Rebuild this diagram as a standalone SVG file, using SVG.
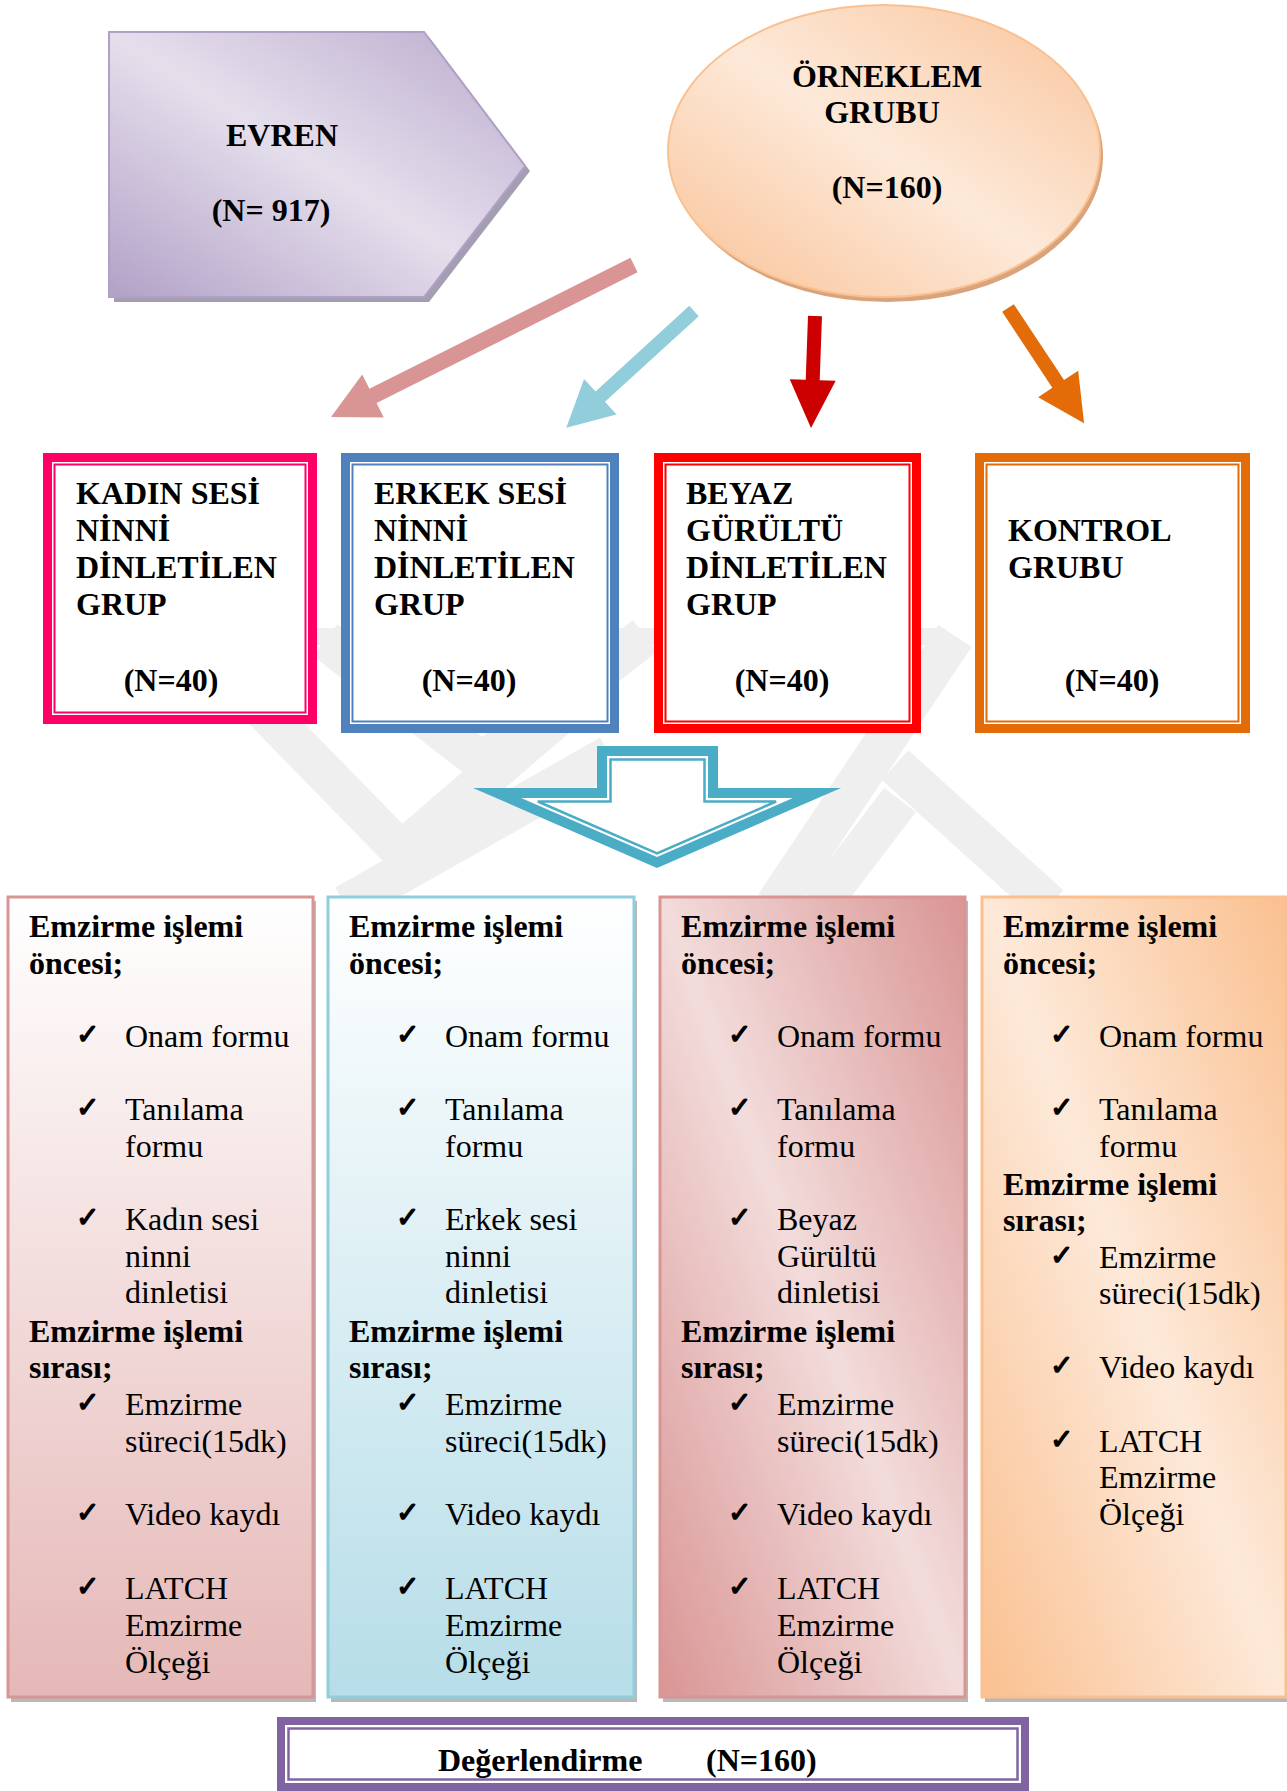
<svg xmlns="http://www.w3.org/2000/svg" width="1287" height="1791" viewBox="0 0 1287 1791">
<defs>
<linearGradient id="gEvren" x1="1" y1="0" x2="0" y2="1">
<stop offset="0" stop-color="#B9AACD"/><stop offset="0.5" stop-color="#E5DFEC"/><stop offset="1" stop-color="#B2A1C7"/>
</linearGradient>
<linearGradient id="gOrn" x1="1" y1="0" x2="0" y2="1">
<stop offset="0" stop-color="#F9C49A"/><stop offset="0.5" stop-color="#FDE9D9"/><stop offset="1" stop-color="#F9C195"/>
</linearGradient>
<linearGradient id="gB1" x1="0" y1="0" x2="0" y2="1">
<stop offset="0" stop-color="#FFFFFF"/><stop offset="1" stop-color="#E5B8B7"/>
</linearGradient>
<linearGradient id="gB2" x1="0" y1="0" x2="0" y2="1">
<stop offset="0" stop-color="#FFFFFF"/><stop offset="1" stop-color="#B6DDE8"/>
</linearGradient>
<linearGradient id="gB3" x1="1" y1="0" x2="0" y2="1">
<stop offset="0" stop-color="#D99594"/><stop offset="0.5" stop-color="#F2DCDB"/><stop offset="1" stop-color="#D99594"/>
</linearGradient>
<linearGradient id="gB4" x1="1" y1="0" x2="0" y2="1">
<stop offset="0" stop-color="#FAC090"/><stop offset="0.5" stop-color="#FDE9D9"/><stop offset="1" stop-color="#FAC090"/>
</linearGradient>
<style>
.t{font-family:"Liberation Serif","Times New Roman",serif;font-size:32px;fill:#000}
.b{font-weight:bold}
.ck{font-family:"DejaVu Sans",sans-serif;font-size:28px;fill:#000;stroke:#000;stroke-width:1.3}
.mid{text-anchor:middle}
.wm{stroke:#EFEFEF;stroke-width:40;fill:none;stroke-linecap:butt}
.shadow{fill:#9A9A9A;opacity:0.7}
</style>
</defs>
<rect width="1287" height="1791" fill="#FFFFFF"/>

<g id="watermark">
<polygon points="250,628 945,628 940,645 255,645" fill="#EFEFEF"/>
<line class="wm" x1="195" y1="640" x2="405" y2="855" stroke-width="46"/>
<line class="wm" x1="325" y1="640" x2="482" y2="762"/>
<line class="wm" x1="482" y1="762" x2="645" y2="636"/>
<line class="wm" x1="400" y1="852" x2="600" y2="680"/>
<line class="wm" x1="345" y1="905" x2="610" y2="755"/>
<line class="wm" x1="955" y1="636" x2="775" y2="905" stroke-width="44"/>
<line class="wm" x1="895" y1="765" x2="1050" y2="905"/>
<line class="wm" x1="900" y1="800" x2="820" y2="905" stroke-width="34"/>
</g>

<g id="evren">
<polygon points="114,37 429,37 530,171 429,302 114,302" fill="#A39EB2"/>
<polygon points="109,32 424,32 525,166 424,297 109,297" fill="url(#gEvren)" stroke="#B2A1C7" stroke-width="2"/>
<text class="t b mid" x="282" y="146">EVREN</text>
<text class="t b mid" x="271" y="221">(N= 917)</text>
</g>

<g id="orneklem">
<ellipse cx="887" cy="156" rx="216" ry="146" fill="#D9A47C"/>
<ellipse cx="884" cy="151" rx="216" ry="146" fill="url(#gOrn)" stroke="#FAC090" stroke-width="2"/>
<text class="t b mid" x="887" y="87">ÖRNEKLEM</text>
<text class="t b mid" x="882" y="123">GRUBU</text>
<text class="t b mid" x="887" y="198">(N=160)</text>
</g>

<g id="connectors">
<polygon transform="translate(634,265) rotate(153.36)" points="0,-8 292,-8 292,-24 339,0 292,24 292,8 0,8" fill="#D99594"/>
<polygon transform="translate(694,311) rotate(137.57)" points="0,-7 127,-7 127,-24 173,0 127,24 127,7 0,7" fill="#92CDDC"/>
<polygon transform="translate(815,316) rotate(92.05)" points="0,-7 64,-7 64,-23 112,0 64,23 64,7 0,7" fill="#CC0000"/>
<polygon transform="translate(1008,308) rotate(56.54)" points="0,-7 91,-7 91,-24 138,0 91,24 91,7 0,7" fill="#E36C09"/>
<g id="bigArrow">
<polygon points="597,746 718,746 718,788 841,788 657,868 473,788 597,788" fill="#4BACC6"/>
<polygon points="607,756 708,756 708,798 792.9,798 657,857.1 521.1,798 607,798" fill="#FFFFFF"/>
<polygon points="610.5,759.5 704.5,759.5 704.5,801.5 776.1,801.5 657,853.3 537.9,801.5 610.5,801.5" fill="#FFFFFF" stroke="#4BACC6" stroke-width="2.5"/>
</g>
</g>

<g id="grp1">
<rect x="43" y="453" width="274" height="271" fill="#FFFFFF"/>
<rect x="47.5" y="457.5" width="265" height="262" fill="none" stroke="#FF0066" stroke-width="9"/>
<rect x="54.5" y="464.5" width="251" height="248" fill="none" stroke="#FF0066" stroke-width="2"/>
<text class="t b" x="76" y="504">KADIN SESİ</text>
<text class="t b" x="76" y="541">NİNNİ</text>
<text class="t b" x="76" y="578">DİNLETİLEN</text>
<text class="t b" x="76" y="615">GRUP</text>
<text class="t b mid" x="171" y="691">(N=40)</text>
</g>

<g id="grp2">
<rect x="341" y="453" width="278" height="280" fill="#FFFFFF"/>
<rect x="345.5" y="457.5" width="269" height="271" fill="none" stroke="#4F81BD" stroke-width="9"/>
<rect x="352.5" y="464.5" width="255" height="257" fill="none" stroke="#4F81BD" stroke-width="2"/>
<text class="t b" x="374" y="504">ERKEK SESİ</text>
<text class="t b" x="374" y="541">NİNNİ</text>
<text class="t b" x="374" y="578">DİNLETİLEN</text>
<text class="t b" x="374" y="615">GRUP</text>
<text class="t b mid" x="469" y="691">(N=40)</text>
</g>

<g id="grp3">
<rect x="654" y="453" width="267" height="280" fill="#FFFFFF"/>
<rect x="658.5" y="457.5" width="258" height="271" fill="none" stroke="#FF0000" stroke-width="9"/>
<rect x="665.5" y="464.5" width="244" height="257" fill="none" stroke="#FF0000" stroke-width="2"/>
<text class="t b" x="686" y="504">BEYAZ</text>
<text class="t b" x="686" y="541">GÜRÜLTÜ</text>
<text class="t b" x="686" y="578">DİNLETİLEN</text>
<text class="t b" x="686" y="615">GRUP</text>
<text class="t b mid" x="782" y="691">(N=40)</text>
</g>

<g id="grp4">
<rect x="975" y="453" width="275" height="280" fill="#FFFFFF"/>
<rect x="979.5" y="457.5" width="266" height="271" fill="none" stroke="#E36C09" stroke-width="9"/>
<rect x="986.5" y="464.5" width="252" height="257" fill="none" stroke="#E36C09" stroke-width="2"/>
<text class="t b" x="1008" y="541">KONTROL</text>
<text class="t b" x="1008" y="578">GRUBU</text>
<text class="t b mid" x="1112" y="691">(N=40)</text>
</g>

<g id="proc1">
<rect class="shadow" x="11" y="901" width="305" height="801"/>
<rect x="8" y="897" width="305" height="800" fill="url(#gB1)" stroke="#D99594" stroke-width="3"/>
<text class="t b" x="29" y="937">Emzirme işlemi</text>
<text class="t b" x="29" y="974">öncesi;</text>
<text class="ck" x="76" y="1044">✓</text><text class="t" x="125" y="1047">Onam formu</text>
<text class="ck" x="76" y="1117">✓</text><text class="t" x="125" y="1120">Tanılama</text>
<text class="t" x="125" y="1157">formu</text>
<text class="ck" x="76" y="1227">✓</text><text class="t" x="125" y="1230">Kadın sesi</text>
<text class="t" x="125" y="1267">ninni</text>
<text class="t" x="125" y="1303">dinletisi</text>
<text class="t b" x="29" y="1342">Emzirme işlemi</text>
<text class="t b" x="29" y="1378">sırası;</text>
<text class="ck" x="76" y="1412">✓</text><text class="t" x="125" y="1415">Emzirme</text>
<text class="t" x="125" y="1452">süreci(15dk)</text>
<text class="ck" x="76" y="1522">✓</text><text class="t" x="125" y="1525">Video kaydı</text>
<text class="ck" x="76" y="1596">✓</text><text class="t" x="125" y="1599">LATCH</text>
<text class="t" x="125" y="1636">Emzirme</text>
<text class="t" x="125" y="1673">Ölçeği</text>
</g>

<g id="proc2">
<rect class="shadow" x="331" y="901" width="306" height="801"/>
<rect x="328" y="897" width="306" height="800" fill="url(#gB2)" stroke="#92CDDC" stroke-width="3"/>
<text class="t b" x="349" y="937">Emzirme işlemi</text>
<text class="t b" x="349" y="974">öncesi;</text>
<text class="ck" x="396" y="1044">✓</text><text class="t" x="445" y="1047">Onam formu</text>
<text class="ck" x="396" y="1117">✓</text><text class="t" x="445" y="1120">Tanılama</text>
<text class="t" x="445" y="1157">formu</text>
<text class="ck" x="396" y="1227">✓</text><text class="t" x="445" y="1230">Erkek sesi</text>
<text class="t" x="445" y="1267">ninni</text>
<text class="t" x="445" y="1303">dinletisi</text>
<text class="t b" x="349" y="1342">Emzirme işlemi</text>
<text class="t b" x="349" y="1378">sırası;</text>
<text class="ck" x="396" y="1412">✓</text><text class="t" x="445" y="1415">Emzirme</text>
<text class="t" x="445" y="1452">süreci(15dk)</text>
<text class="ck" x="396" y="1522">✓</text><text class="t" x="445" y="1525">Video kaydı</text>
<text class="ck" x="396" y="1596">✓</text><text class="t" x="445" y="1599">LATCH</text>
<text class="t" x="445" y="1636">Emzirme</text>
<text class="t" x="445" y="1673">Ölçeği</text>
</g>

<g id="proc3">
<rect class="shadow" x="663" y="901" width="305" height="801"/>
<rect x="660" y="897" width="305" height="800" fill="url(#gB3)" stroke="#D99594" stroke-width="3"/>
<text class="t b" x="681" y="937">Emzirme işlemi</text>
<text class="t b" x="681" y="974">öncesi;</text>
<text class="ck" x="728" y="1044">✓</text><text class="t" x="777" y="1047">Onam formu</text>
<text class="ck" x="728" y="1117">✓</text><text class="t" x="777" y="1120">Tanılama</text>
<text class="t" x="777" y="1157">formu</text>
<text class="ck" x="728" y="1227">✓</text><text class="t" x="777" y="1230">Beyaz</text>
<text class="t" x="777" y="1267">Gürültü</text>
<text class="t" x="777" y="1303">dinletisi</text>
<text class="t b" x="681" y="1342">Emzirme işlemi</text>
<text class="t b" x="681" y="1378">sırası;</text>
<text class="ck" x="728" y="1412">✓</text><text class="t" x="777" y="1415">Emzirme</text>
<text class="t" x="777" y="1452">süreci(15dk)</text>
<text class="ck" x="728" y="1522">✓</text><text class="t" x="777" y="1525">Video kaydı</text>
<text class="ck" x="728" y="1596">✓</text><text class="t" x="777" y="1599">LATCH</text>
<text class="t" x="777" y="1636">Emzirme</text>
<text class="t" x="777" y="1673">Ölçeği</text>
</g>

<g id="proc4">
<rect class="shadow" x="985" y="901" width="305" height="801"/>
<rect x="982" y="897" width="304" height="800" fill="url(#gB4)" stroke="#FAC090" stroke-width="3"/>
<text class="t b" x="1003" y="937">Emzirme işlemi</text>
<text class="t b" x="1003" y="974">öncesi;</text>
<text class="ck" x="1050" y="1044">✓</text><text class="t" x="1099" y="1047">Onam formu</text>
<text class="ck" x="1050" y="1117">✓</text><text class="t" x="1099" y="1120">Tanılama</text>
<text class="t" x="1099" y="1157">formu</text>
<text class="t b" x="1003" y="1195">Emzirme işlemi</text>
<text class="t b" x="1003" y="1231">sırası;</text>
<text class="ck" x="1050" y="1265">✓</text><text class="t" x="1099" y="1268">Emzirme</text>
<text class="t" x="1099" y="1304">süreci(15dk)</text>
<text class="ck" x="1050" y="1375">✓</text><text class="t" x="1099" y="1378">Video kaydı</text>
<text class="ck" x="1050" y="1449">✓</text><text class="t" x="1099" y="1452">LATCH</text>
<text class="t" x="1099" y="1488">Emzirme</text>
<text class="t" x="1099" y="1525">Ölçeği</text>
</g>

<g id="degerlendirme">
<rect x="277" y="1717" width="752" height="74" fill="#FFFFFF"/>
<rect x="281" y="1721" width="744" height="66" fill="none" stroke="#8064A2" stroke-width="8"/>
<rect x="288.5" y="1728.5" width="729" height="51" fill="none" stroke="#8064A2" stroke-width="2.5"/>
<text class="t b" y="1771"><tspan x="438">Değerlendirme</tspan><tspan x="706">(N=160)</tspan></text>
</g>
</svg>
